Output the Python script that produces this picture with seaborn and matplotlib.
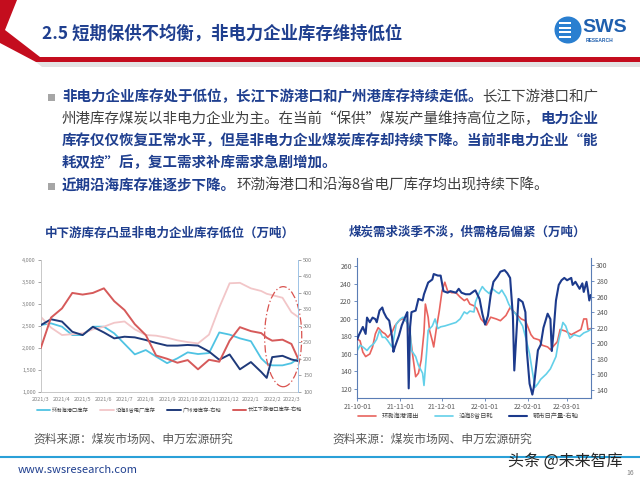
import matplotlib
matplotlib.use("Agg")
import matplotlib.pyplot as plt
import matplotlib.dates as mdates
from matplotlib.patches import Polygon, Ellipse, Circle, Rectangle
from matplotlib.ticker import FuncFormatter, MultipleLocator
import pandas as pd
import seaborn as sns

# ---------------- data: left chart (semi-monthly readings) ----------------
inv_dates = ["2021-03-01", "2021-03-16", "2021-04-01", "2021-04-16", "2021-05-01", "2021-05-16",
             "2021-06-01", "2021-06-16", "2021-07-01", "2021-07-16", "2021-08-01", "2021-08-16",
             "2021-09-01", "2021-09-16", "2021-10-01", "2021-10-16", "2021-11-01", "2021-11-16",
             "2021-12-01", "2021-12-16", "2022-01-01", "2022-01-16", "2022-01-24", "2022-02-01",
             "2022-02-16", "2022-03-01", "2022-03-11"]
bohai_port = [2519, 2557, 2481, 2290, 2291, 2481, 2481, 2330, 2090, 1850, 1949, 1800, 1650, 1760,
              1896, 1858, 1880, 2350, 2300, 2215, 2150, 1760, 1640, 1600, 1600, 1650, 1760]
coastal8_plant = [2709, 2460, 2291, 2310, 2329, 2420, 2481, 2570, 2600, 2420, 2291, 2276, 2230, 2170,
                  2130, 2100, 2300, 2920, 3470, 3480, 3354, 3294, 3230, 3200, 3140, 2810, 2700]
guangzhou_port = [302, 320, 313, 282, 272, 297, 280, 262, 267, 265, 257, 248, 240, 240,
                  242, 240, 222, 197, 213, 168, 190, 160, 142, 205, 209, 198, 193]
yangtze_port = [232, 325, 353, 400, 395, 400, 414, 375, 348, 305, 272, 210, 200, 188,
                196, 168, 197, 191, 255, 296, 284, 278, 264, 255, 258, 245, 199]
inv_labels = ["环渤海港口库存", "沿海8省电厂库存", "广州港库存-右轴", "长江下游港口库存-右轴"]

# ---------------- data: right chart (daily readings) ----------------
outflow_dates = ["2021-10-01", "2021-10-03", "2021-10-05", "2021-10-07", "2021-10-10", "2021-10-12",
                 "2021-10-14", "2021-10-16", "2021-10-19", "2021-10-21", "2021-10-23", "2021-10-26",
                 "2021-10-28", "2021-10-31", "2021-11-02", "2021-11-04", "2021-11-06", "2021-11-08",
                 "2021-11-10", "2021-11-12", "2021-11-14", "2021-11-16", "2021-11-18", "2021-11-19",
                 "2021-11-21", "2021-11-22", "2021-11-24", "2021-11-25", "2021-11-27", "2021-11-29",
                 "2021-12-01", "2021-12-03", "2021-12-05", "2021-12-08", "2021-12-11", "2021-12-14",
                 "2021-12-17", "2021-12-19", "2021-12-21", "2021-12-24", "2021-12-26", "2021-12-29",
                 "2022-01-02", "2022-01-05", "2022-01-09", "2022-01-12", "2022-01-16", "2022-01-19",
                 "2022-01-23", "2022-01-27", "2022-01-30", "2022-02-03", "2022-02-05", "2022-02-09",
                 "2022-02-11", "2022-02-15", "2022-02-17", "2022-02-22", "2022-02-24", "2022-02-28",
                 "2022-03-04", "2022-03-11", "2022-03-13", "2022-03-15", "2022-03-16", "2022-03-18"]
bohai_outflow = [177, 175, 162, 157, 160, 168, 183, 190, 185, 183, 179, 185, 192, 198, 200, 200, 196, 183,
                 157, 134, 138, 153, 185, 217, 202, 187, 175, 168, 190, 209, 232, 242, 232, 230, 230, 225,
                 221, 223, 217, 215, 212, 200, 193, 202, 200, 198, 204, 213, 206, 200, 198, 182, 178, 176,
                 170, 168, 165, 174, 188, 186, 182, 188, 200, 200, 188, 189]

burn_dates = ["2021-10-01", "2021-10-03", "2021-10-05", "2021-10-08", "2021-10-10", "2021-10-13",
              "2021-10-15", "2021-10-17", "2021-10-19", "2021-10-21", "2021-10-23", "2021-10-26",
              "2021-10-27", "2021-10-29", "2021-11-01", "2021-11-03", "2021-11-06", "2021-11-08",
              "2021-11-09", "2021-11-12", "2021-11-14", "2021-11-17", "2021-11-18", "2021-11-20",
              "2021-11-21", "2021-11-24", "2021-11-26", "2021-11-28", "2021-11-30", "2021-12-03",
              "2021-12-07", "2021-12-11", "2021-12-14", "2021-12-17", "2021-12-19", "2021-12-21",
              "2021-12-24", "2021-12-25", "2021-12-28", "2021-12-30", "2022-01-01", "2022-01-04",
              "2022-01-06", "2022-01-09", "2022-01-11", "2022-01-13", "2022-01-16", "2022-01-18",
              "2022-01-21", "2022-01-23", "2022-01-25", "2022-01-28", "2022-01-30", "2022-02-02",
              "2022-02-04", "2022-02-06", "2022-02-08", "2022-02-10", "2022-02-14", "2022-02-17",
              "2022-02-21", "2022-02-23", "2022-02-26", "2022-02-28", "2022-03-03", "2022-03-06",
              "2022-03-10", "2022-03-13", "2022-03-16", "2022-03-18"]
coastal8_burn = [164, 170, 168, 164, 168, 172, 177, 187, 179, 179, 175, 168, 175, 194, 200, 202, 196, 187,
                 164, 157, 147, 138, 124, 164, 187, 192, 200, 189, 191, 192, 194, 196, 200, 208, 206, 209,
                 208, 219, 231, 237, 233, 229, 235, 231, 229, 233, 225, 217, 209, 206, 200, 192, 180, 160,
                 140, 122, 126, 131, 137, 143, 157, 176, 196, 192, 178, 182, 180, 184, 186, 188]

ordos_dates = ["2021-10-01", "2021-10-02", "2021-10-05", "2021-10-07", "2021-10-08", "2021-10-10",
               "2021-10-12", "2021-10-14", "2021-10-15", "2021-10-17", "2021-10-19", "2021-10-20",
               "2021-10-22", "2021-10-24", "2021-10-26", "2021-10-27", "2021-10-28", "2021-10-31",
               "2021-11-02", "2021-11-05", "2021-11-06", "2021-11-07", "2021-11-08", "2021-11-09",
               "2021-11-12", "2021-11-14", "2021-11-17", "2021-11-18", "2021-11-21", "2021-11-24",
               "2021-11-25", "2021-11-28", "2021-11-30", "2021-12-02", "2021-12-05", "2021-12-07",
               "2021-12-11", "2021-12-13", "2021-12-15", "2021-12-18", "2021-12-21", "2021-12-24",
               "2021-12-25", "2021-12-28", "2021-12-30", "2022-01-01", "2022-01-03", "2022-01-05",
               "2022-01-07", "2022-01-10", "2022-01-12", "2022-01-15", "2022-01-17", "2022-01-19",
               "2022-01-21", "2022-01-22", "2022-01-24", "2022-01-25", "2022-01-28", "2022-01-30",
               "2022-01-31", "2022-02-02", "2022-02-04", "2022-02-05", "2022-02-08", "2022-02-10",
               "2022-02-12", "2022-02-15", "2022-02-17", "2022-02-18", "2022-02-19", "2022-02-21",
               "2022-02-23", "2022-02-25", "2022-02-27", "2022-03-01", "2022-03-04", "2022-03-05",
               "2022-03-07", "2022-03-10", "2022-03-12", "2022-03-13", "2022-03-15", "2022-03-16",
               "2022-03-17", "2022-03-18"]
ordos_output = [205, 210, 221, 212, 233, 227, 233, 231, 227, 242, 246, 240, 233, 229, 208, 189, 195, 210,
                223, 236, 240, 142, 221, 240, 242, 257, 255, 263, 278, 282, 289, 287, 287, 267, 265, 267,
                265, 270, 265, 263, 263, 267, 268, 257, 238, 224, 235, 262, 279, 286, 292, 294, 290, 284,
                235, 165, 227, 257, 253, 240, 191, 148, 134, 143, 191, 198, 220, 238, 231, 190, 209, 255,
                275, 281, 284, 281, 284, 275, 279, 270, 277, 266, 279, 268, 255, 262]
supply_labels = ["环渤海港调出", "沿海8省日耗", "鄂市日产量-右轴"]

# ---------------- style ----------------
sns.set_theme(style="white")
plt.rcParams["font.family"] = ["Noto Sans CJK SC", "DejaVu Sans"]
plt.rcParams["axes.unicode_minus"] = False

BLUE = "#1f3f8f"
GREY_TXT = "#404040"

fig = plt.figure(figsize=(6.4, 4.8), dpi=100)

# background canvas in pixel units
bg = fig.add_axes([0, 0, 1, 1], zorder=0)
bg.set_xlim(0, 640)
bg.set_ylim(480, 0)
bg.axis("off")

# header banner
bg.add_patch(Polygon([(0, 0), (17, 0), (5, 30), (40, 57), (640, 57), (640, 62), (36, 62), (0, 43)],
                     closed=True, color="#c40d1e", lw=0))
bg.add_patch(Polygon([(36, 62), (640, 62), (640, 67), (42, 67)], closed=True, color="#e3e3e3", lw=0))
bg.text(42, 34, "2.5 短期保供不均衡，非电力企业库存维持低位", fontsize=12.5, fontweight="bold",
        color=BLUE, va="center", ha="left")

# logo
bg.add_patch(Circle((568, 30), 13.5, color="#2a7fd0", lw=0))
for yy in [23, 27.5, 32, 36.5]:
    bg.add_patch(Rectangle((559, yy - 1), 12, 2, color="white", lw=0))
bg.text(582, 27, "SWS", fontsize=14, fontweight="bold", color="#1f5fae", va="center", ha="left",
        family=["Liberation Sans", "DejaVu Sans"])
bg.text(586, 40, "RESEARCH", fontsize=3.5, fontweight="bold", color="#1f5fae", va="center", ha="left",
        family=["Liberation Sans", "DejaVu Sans"])

# bullet paragraphs with mixed bold / normal runs
renderer = fig.canvas.get_renderer()


def rich_line(x, y, parts, size=10.45):
    for txt, bold in parts:
        t = bg.text(x, y, txt, fontsize=size, va="center", ha="left",
                    fontweight="bold" if bold else "normal",
                    color=BLUE if bold else GREY_TXT)
        x += t.get_window_extent(renderer).width


for yb in [97, 186]:
    bg.add_patch(Rectangle((48, yb - 3.5), 7, 7, color="#a6a6a6", lw=0))

rich_line(62, 97, [("非电力企业库存处于低位，长江下游港口和广州港库存持续走低。", True),
                   ("长江下游港口和广", False)])
rich_line(62, 119, [("州港库存煤炭以非电力企业为主。在当前“保供”煤炭产量维持高位之际，", False),
                    ("电力企业", True)])
rich_line(62, 141, [("库存仅仅恢复正常水平，但是非电力企业煤炭库存却持续下降。当前非电力企业“能", True)])
rich_line(62, 163, [("耗双控”后，复工需求补库需求急剧增加。", True)])
rich_line(62, 186, [("近期沿海库存准逐步下降。", True),
                    ("环渤海港口和沿海8省电厂库存均出现持续下降。", False)])

# chart titles / sources / footer
bg.text(170, 233, "中下游库存凸显非电力企业库存低位（万吨）", fontsize=9, fontweight="bold",
        color=BLUE, ha="center", va="center")
bg.text(467, 232, "煤炭需求淡季不淡，供需格局偏紧（万吨）", fontsize=9, fontweight="bold",
        color=BLUE, ha="center", va="center")
bg.text(33, 439, "资料来源：煤炭市场网、申万宏源研究", fontsize=8.5, color="#595959", va="center")
bg.text(332, 439, "资料来源：煤炭市场网、申万宏源研究", fontsize=8.5, color="#595959", va="center")
bg.plot([0, 640], [457, 457], color="#2aa0d8", lw=1.5)
bg.text(18, 470, "www.swsresearch.com", fontsize=8, color=BLUE, va="center")
bg.text(626, 473, "16", fontsize=5, color="#7f7f7f", va="center")
bg.text(508, 461, "头条 @未来智库", fontsize=11.5, color="#262626", va="center")


def px_axes(x0, y0, x1, y1):
    return fig.add_axes([x0 / 640, 1 - y1 / 480, (x1 - x0) / 640, (y1 - y0) / 480], zorder=2)


# ---------------- left chart ----------------
d1 = pd.to_datetime(inv_dates)
ax1 = px_axes(40.7, 260, 298.3, 391.7)
ax1.patch.set_alpha(0)
ax1r = ax1.twinx()

handles1 = []
sns.lineplot(x=d1, y=bohai_port, ax=ax1, color="#4fc3e3", lw=1.3)
handles1.append(ax1.lines[-1])
sns.lineplot(x=d1, y=coastal8_plant, ax=ax1, color="#f2c6c8", lw=1.3)
handles1.append(ax1.lines[-1])
sns.lineplot(x=d1, y=guangzhou_port, ax=ax1r, color="#1f3a7a", lw=1.4)
handles1.append(ax1r.lines[-1])
sns.lineplot(x=d1, y=yangtze_port, ax=ax1r, color="#d65a5a", lw=1.4)
handles1.append(ax1r.lines[-1])

ax1.set_xlim(pd.Timestamp("2021-03-01"), pd.Timestamp("2022-03-11"))
ax1.set_ylim(1000, 4000)
ax1.yaxis.set_major_locator(MultipleLocator(500))
ax1.yaxis.set_major_formatter(FuncFormatter(lambda v, p: f"{int(v):,}"))
ax1r.set_ylim(100, 500)
ax1r.yaxis.set_major_locator(MultipleLocator(50))
ax1.xaxis.set_major_locator(mdates.MonthLocator())
ax1.xaxis.set_major_formatter(FuncFormatter(lambda v, p: f"{mdates.num2date(v).year}/{mdates.num2date(v).month}"))

for a in (ax1, ax1r):
    a.set_xlabel("")
    a.set_ylabel("")
    a.grid(False)
    for s in a.spines.values():
        s.set_visible(False)
ax1.spines["left"].set_visible(True)
ax1.spines["left"].set_color("#c8c8c8")
ax1.spines["bottom"].set_visible(True)
ax1.spines["bottom"].set_color("#c8c8c8")
ax1r.spines["right"].set_visible(True)
ax1r.spines["right"].set_color("#9dc3e6")
for s in ("left", "bottom", "right"):
    ax1.spines[s].set_linewidth(0.7)
    ax1r.spines[s].set_linewidth(0.7)
ax1.tick_params(axis="both", labelsize=4, colors="#808080", length=2, width=0.5, pad=1.5)
ax1r.tick_params(axis="y", labelsize=4, colors="#808080", length=2, width=0.5, pad=1.5)

ell = Ellipse((mdates.date2num(pd.Timestamp("2022-02-17")), 2253), width=54, height=2280,
              fill=False, ec="#d9534f", lw=0.9, ls=(0, (6, 2, 1, 2)), clip_on=False, zorder=5)
ax1.add_patch(ell)

leg1 = ax1.legend(handles1, inv_labels, loc="center", bbox_to_anchor=(0.5, -0.14), ncol=4,
                  frameon=False, fontsize=3.8, handlelength=2.6, handletextpad=0.3,
                  columnspacing=2.2)
for t in leg1.get_texts():
    t.set_color("#404040")

# ---------------- right chart ----------------
ax2 = px_axes(357.3, 257.7, 590.7, 397.7)
ax2.patch.set_alpha(0)
ax2r = ax2.twinx()

handles2 = []
sns.lineplot(x=pd.to_datetime(outflow_dates), y=bohai_outflow, ax=ax2, color="#e8635e", lw=1.2)
handles2.append(ax2.lines[-1])
sns.lineplot(x=pd.to_datetime(burn_dates), y=coastal8_burn, ax=ax2, color="#63d0e9", lw=1.2)
handles2.append(ax2.lines[-1])
sns.lineplot(x=pd.to_datetime(ordos_dates), y=ordos_output, ax=ax2r, color="#1c3a8c", lw=1.5)
handles2.append(ax2r.lines[-1])

ax2.set_xlim(pd.Timestamp("2021-10-01"), pd.Timestamp("2022-03-18"))
ax2.set_ylim(110, 270)
ax2.yaxis.set_major_locator(MultipleLocator(20))
ax2r.set_ylim(130, 310)
ax2r.yaxis.set_major_locator(MultipleLocator(20))
ax2.xaxis.set_major_locator(mdates.MonthLocator())
ax2.xaxis.set_major_formatter(mdates.DateFormatter("%y-%m-%d"))

AX2C = "#5a7db5"
for a in (ax2, ax2r):
    a.set_xlabel("")
    a.set_ylabel("")
    a.grid(False)
    a.spines["top"].set_visible(False)
    for s in ("left", "right", "bottom"):
        a.spines[s].set_color(AX2C)
        a.spines[s].set_linewidth(0.8)
ax2.spines["right"].set_visible(False)
ax2r.spines["left"].set_visible(False)
ax2r.spines["bottom"].set_visible(False)
ax2.tick_params(axis="both", labelsize=5, colors=AX2C, labelcolor="#595959", length=2.5,
                width=0.6, direction="out", pad=1.5)
ax2r.tick_params(axis="y", labelsize=5, colors=AX2C, labelcolor="#595959", length=2.5,
                 width=0.6, direction="out", pad=1.5)
ax2.tick_params(axis="x", bottom=True)
ax2.tick_params(axis="y", left=True)
ax2r.tick_params(axis="y", right=True)

leg2 = ax2.legend(handles2, supply_labels, loc="center", bbox_to_anchor=(0.474, -0.13), ncol=3,
                  frameon=False, fontsize=4.5, handlelength=3, columnspacing=2.5)
for t in leg2.get_texts():
    t.set_color("#404040")

fig.savefig("out.png", dpi=100)
